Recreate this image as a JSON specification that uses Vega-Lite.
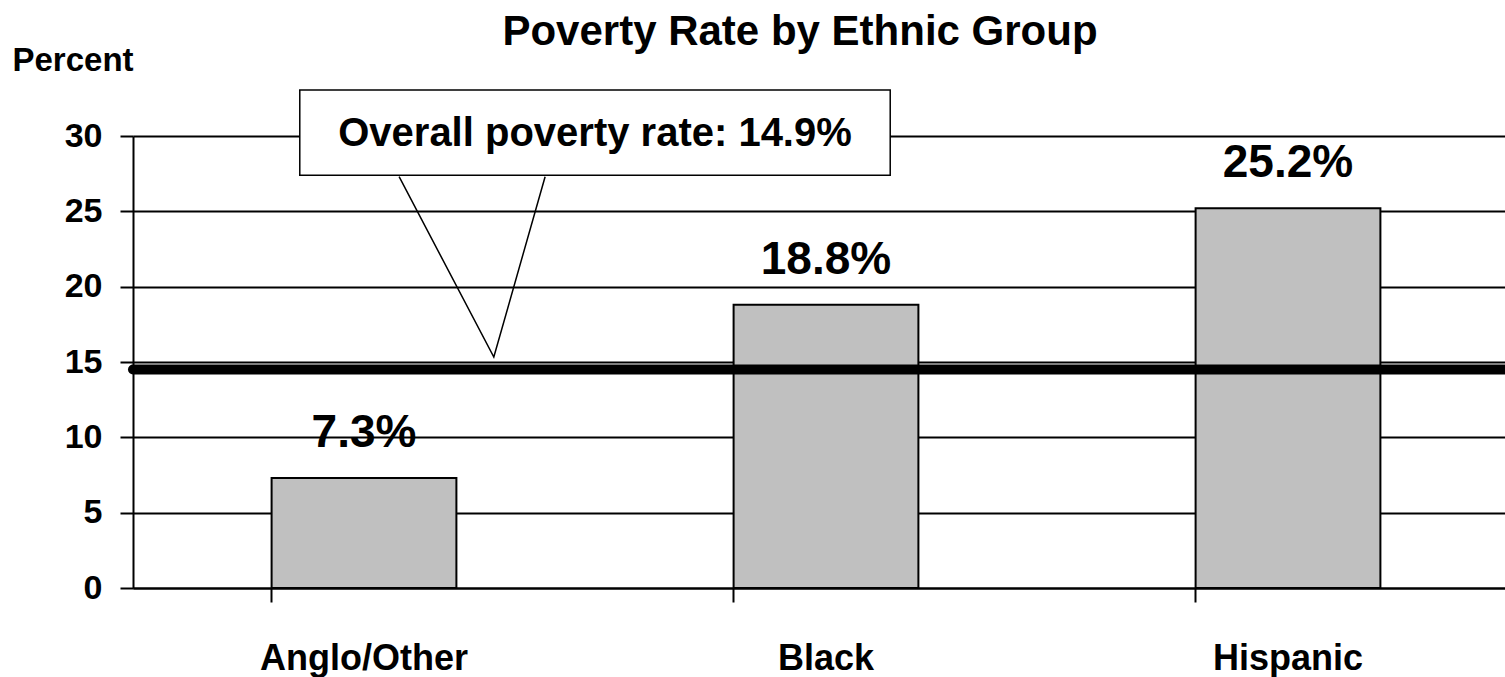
{
  "$schema": "https://vega.github.io/schema/vega-lite/v6.json",
  "autosize": "none",
  "width": 1372,
  "height": 452,
  "padding": {"left": 133, "top": 136, "right": 0, "bottom": 89},
  "background": "white",
  "config": {
    "font": "Liberation Sans",
    "view": {"stroke": null}
  },
  "title": {
    "text": "Poverty Rate by Ethnic Group",
    "fontSize": 42,
    "fontWeight": "bold",
    "font": "Liberation Sans",
    "color": "black",
    "anchor": "middle",
    "dx": -19,
    "dy": 10,
    "offset": 0
  },
  "data": {
    "values": [
      {"group": "Anglo/Other", "rate": 7.3, "label": "7.3%"},
      {"group": "Black", "rate": 18.8, "label": "18.8%"},
      {"group": "Hispanic", "rate": 25.2, "label": "25.2%"}
    ]
  },
  "resolve": {"scale": {"x": "independent"}},
  "layer": [
    {
      "mark": {"type": "bar", "fill": "#c0c0c0", "stroke": "black", "strokeWidth": 2},
      "encoding": {
        "x": {
          "field": "group", "type": "nominal", "sort": null,
          "scale": {"range": [0, 1386], "paddingInner": 0.6, "paddingOuter": 0.3},
          "axis": {
            "title": null, "labelAngle": 0, "bandPosition": 0, "labelLimit": 0,
            "labelFontSize": 36, "labelFontWeight": "bold", "labelColor": "black",
            "labelPadding": 39, "tickSize": 14, "tickColor": "black", "tickWidth": 2,
            "domainColor": "black", "domainWidth": 2, "grid": false
          }
        },
        "y": {
          "field": "rate", "type": "quantitative",
          "scale": {"domain": [0, 30], "nice": false},
          "axis": {
            "values": [0, 5, 10, 15, 20, 25, 30],
            "title": "Percent", "titleAngle": 0, "titleAlign": "left", "titleBaseline": "alphabetic",
            "titleX": -121, "titleY": -66, "titleFontSize": 33, "titleFontWeight": "bold", "titleColor": "black",
            "labelFontSize": 34, "labelFontWeight": "bold", "labelColor": "black", "labelPadding": 18,
            "tickSize": 13, "tickColor": "black", "tickWidth": 2,
            "domainColor": "black", "domainWidth": 2,
            "grid": true, "gridColor": "black", "gridWidth": 2, "gridOpacity": 1
          }
        }
      }
    },
    {
      "mark": {"type": "text", "fontSize": 46, "fontWeight": "bold", "dy": -31, "baseline": "alphabetic", "color": "black"},
      "encoding": {
        "x": {"field": "group", "type": "nominal", "sort": null, "scale": {"range": [0, 1386], "paddingInner": 0.6, "paddingOuter": 0.3}, "axis": null},
        "y": {"field": "rate", "type": "quantitative", "scale": {"domain": [0, 30], "nice": false}},
        "text": {"field": "label"}
      }
    },
    {
      "data": {"values": [{"line": 14.5}]},
      "mark": {"type": "rule", "stroke": "black", "strokeWidth": 10, "strokeCap": "round"},
      "encoding": {
        "y": {"field": "line", "type": "quantitative", "scale": {"domain": [0, 30], "nice": false}}
      }
    },
    {
      "data": {"values": [{"x1": 0.361, "x2": 1.639, "y1": 33.05, "y2": 27.4}]},
      "mark": {"type": "rect", "fill": "white", "stroke": "black", "strokeWidth": 1.5},
      "encoding": {
        "x": {"field": "x1", "type": "quantitative", "scale": {"domain": [0, 3], "range": [0, 1386]}, "axis": null},
        "x2": {"field": "x2"},
        "y": {"field": "y1", "type": "quantitative", "scale": {"domain": [0, 30], "nice": false}},
        "y2": {"field": "y2"}
      }
    },
    {
      "data": {"values": [
        {"px": 0.576, "py": 27.3, "o": 1},
        {"px": 0.781, "py": 15.33, "o": 2},
        {"px": 0.892, "py": 27.3, "o": 3}
      ]},
      "layer": [
        {
          "mark": {"type": "area", "fill": "white", "stroke": null},
          "encoding": {
            "x": {"field": "px", "type": "quantitative", "scale": {"domain": [0, 3], "range": [0, 1386]}, "axis": null},
            "y": {"field": "py", "type": "quantitative", "scale": {"domain": [0, 30], "nice": false}},
            "y2": {"datum": 27.6},
            "order": {"field": "o"}
          }
        },
        {
          "mark": {"type": "line", "stroke": "black", "strokeWidth": 1.5},
          "encoding": {
            "x": {"field": "px", "type": "quantitative", "scale": {"domain": [0, 3], "range": [0, 1386]}, "axis": null},
            "y": {"field": "py", "type": "quantitative", "scale": {"domain": [0, 30], "nice": false}},
            "order": {"field": "o"}
          }
        }
      ]
    },
    {
      "data": {"values": [{"note": "Overall poverty rate: 14.9%", "nx": 1.0, "ny": 30.1}]},
      "mark": {"type": "text", "fontSize": 40, "fontWeight": "bold", "baseline": "middle", "align": "center", "color": "black"},
      "encoding": {
        "x": {"field": "nx", "type": "quantitative", "scale": {"domain": [0, 3], "range": [0, 1386]}, "axis": null},
        "y": {"field": "ny", "type": "quantitative", "scale": {"domain": [0, 30], "nice": false}},
        "text": {"field": "note"}
      }
    }
  ]
}
